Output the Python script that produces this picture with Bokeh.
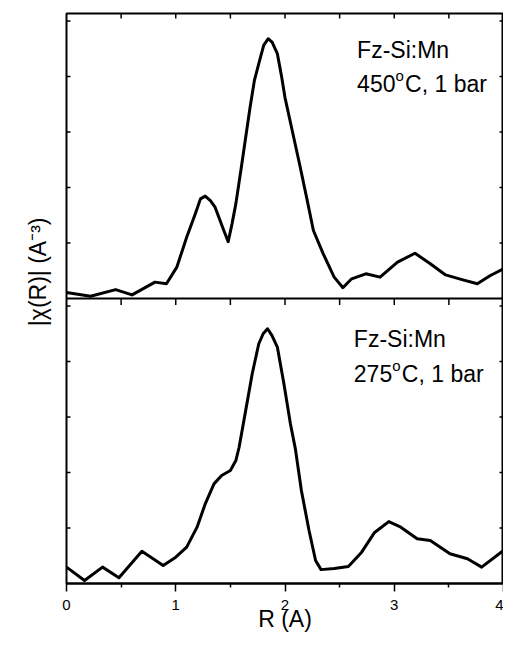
import numpy as np
from bokeh.plotting import figure
from bokeh.models import Range1d, LinearAxis, FixedTicker, Span, Label, Title
from bokeh.embed import file_html
from bokeh.resources import INLINE

# ---- data ----
r_top = [0.0, 0.22, 0.45, 0.60, 0.81, 0.915, 1.01, 1.10, 1.18, 1.226, 1.27, 1.317, 1.36,
         1.44, 1.48, 1.515, 1.55, 1.60, 1.68, 1.72, 1.76, 1.805, 1.845, 1.882, 1.93, 1.967,
         2.00, 2.08, 2.14, 2.20, 2.26, 2.35, 2.45, 2.53, 2.61, 2.74, 2.87, 3.03, 3.19,
         3.33, 3.47, 3.62, 3.76, 3.88, 4.00]
chi_top = [0.22, 0.08, 0.32, 0.13, 0.59, 0.53, 1.13, 2.21, 3.06, 3.59, 3.69, 3.53, 3.29,
           2.45, 2.05, 2.69, 3.41, 4.72, 6.88, 7.86, 8.46, 9.12, 9.36, 9.24, 8.82, 8.04,
           7.24, 5.80, 4.72, 3.60, 2.45, 1.61, 0.77, 0.39, 0.71, 0.89, 0.77, 1.31, 1.63,
           1.25, 0.85, 0.68, 0.53, 0.83, 1.07]

r_bot = [0.0, 0.165, 0.33, 0.48, 0.69, 0.885, 1.00, 1.10, 1.195, 1.27, 1.35, 1.42, 1.50,
         1.55, 1.58, 1.64, 1.70, 1.76, 1.80, 1.84, 1.88, 1.93, 1.99, 2.05, 2.095, 2.15,
         2.22, 2.28, 2.33, 2.45, 2.58, 2.70, 2.82, 2.95, 3.06, 3.21, 3.33, 3.51, 3.67,
         3.80, 4.00]
chi_bot = [0.59, 0.11, 0.59, 0.21, 1.16, 0.65, 0.95, 1.31, 2.03, 2.87, 3.59, 3.89, 4.07,
           4.43, 4.91, 6.23, 7.56, 8.64, 9.00, 9.18, 8.94, 8.52, 7.20, 5.75, 4.85, 3.35,
           1.91, 0.83, 0.50, 0.54, 0.61, 1.12, 1.84, 2.23, 2.03, 1.61, 1.55, 1.07, 0.89,
           0.59, 1.19]

x_major = [0, 1, 2, 3, 4]
x_minor = [0.5, 1.5, 2.5, 3.5]
x_inner = [0.5, 1, 1.5, 2, 2.5, 3, 3.5]
y_ticks = [2, 4, 6, 8, 10]
panel_h = 10.27

FONT = "Liberation Sans"

p = figure(frame_width=437, frame_height=570, output_backend="svg", toolbar_location=None,
           x_range=Range1d(0, 4), y_range=Range1d(0, 2 * panel_h),
           min_border_left=66, min_border_right=0, min_border_top=13, min_border_bottom=0,
           x_axis_location=None, y_axis_location=None)
p.grid.grid_line_color = None
p.outline_line_color = "black"
p.outline_line_width = 2
p.background_fill_color = "white"
p.border_fill_color = "white"

# bottom axis with labels
xb = LinearAxis(ticker=FixedTicker(ticks=x_major, minor_ticks=x_minor),
                major_tick_in=0, major_tick_out=8, minor_tick_in=0, minor_tick_out=4,
                axis_line_width=2, major_tick_line_width=1.5, minor_tick_line_width=1.5,
                major_label_text_font=FONT, major_label_text_font_size="15px",
                major_label_standoff=8, major_label_text_color="black",
                axis_label="R (A)", axis_label_text_font=FONT,
                axis_label_text_font_size="23px", axis_label_text_font_style="normal",
                axis_label_standoff=-7, axis_label_text_color="black")
p.add_layout(xb, "below")

# y-axis title (rotated), placed with a side title
p.add_layout(Title(text="|\u03c7(R)| (A\u207b\u00b3)", align="right", offset=204,
                   text_font=FONT, text_font_size="23px", text_font_style="normal",
                   text_color="black", vertical_align="top", standoff=27), "left")

# inward ticks drawn as short segments
y_all = y_ticks + [panel_h + t for t in y_ticks]
tick_dx = 4 / 109.25
tick_dy = 5 / 27.75
seg = dict(line_color="black", line_width=1.5)
p.segment(x0=[0] * len(y_all), y0=y_all, x1=[tick_dx] * len(y_all), y1=y_all, **seg)
p.segment(x0=[4 - tick_dx] * len(y_all), y0=y_all, x1=[4] * len(y_all), y1=y_all, **seg)
p.segment(x0=x_inner, y0=[2 * panel_h] * len(x_inner), x1=x_inner,
          y1=[2 * panel_h - tick_dy] * len(x_inner), **seg)

# divider between panels, with downward ticks
p.add_layout(Span(location=panel_h, dimension="width", line_color="black", line_width=2))
p.segment(x0=x_inner, y0=[panel_h] * len(x_inner), x1=x_inner,
          y1=[panel_h - 1.3 * tick_dy] * len(x_inner), **seg)

# curves
p.line(r_top, [panel_h + v for v in chi_top], line_color="black", line_width=3,
       line_join="round")
p.line(r_bot, chi_bot, line_color="black", line_width=3, line_join="round")

def add_text(x, y, txt, size, xo=0, yo=0):
    p.add_layout(Label(x=x, y=y, text=txt, x_offset=xo, y_offset=yo,
                       text_font=FONT, text_font_size=size, text_color="black",
                       text_align="left", text_baseline="alphabetic"))

# annotations
for (x, y1, y2, temp) in [(2.66, 19.24, 18.01, "450"), (2.63, 8.82, 7.56, "275")]:
    add_text(x, y1, "Fz-Si:Mn", "23px")
    add_text(x, y2, temp, "23px")
    add_text(x, y2, "o", "15px", xo=38.5, yo=8)
    add_text(x, y2, "C, 1 bar", "23px", xo=48)

open("out.html", "w").write(file_html(p, INLINE))
